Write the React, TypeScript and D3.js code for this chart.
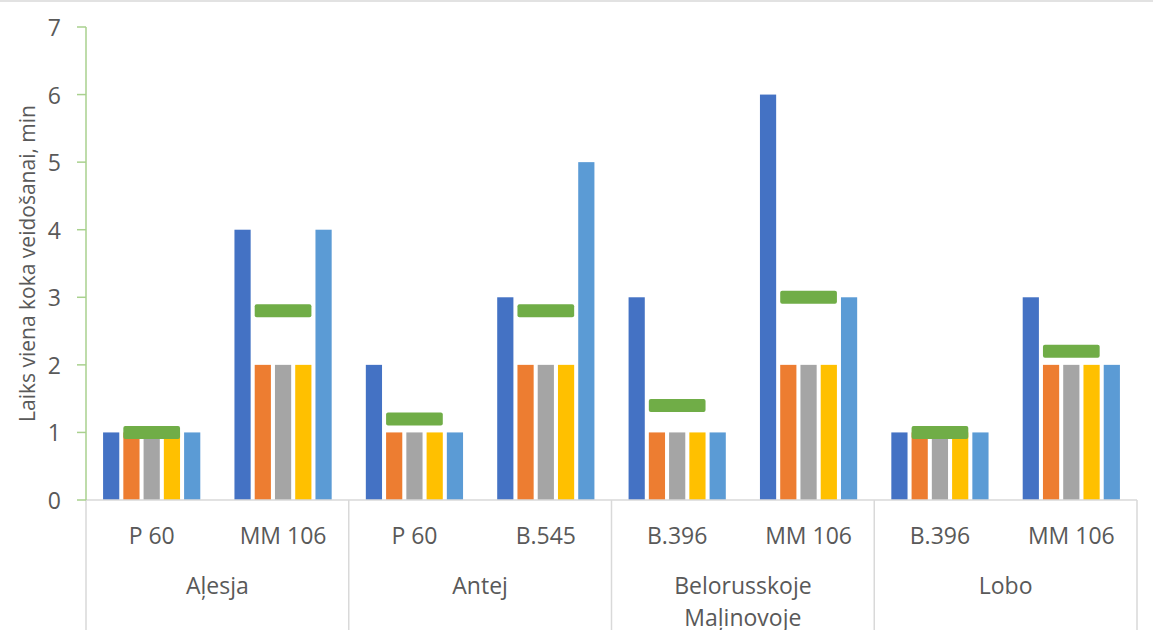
import React from "react";
import * as d3 from "d3";

const cultivars = ["Aļesja", "Antej", "Belorusskoje\nMaļinovoje", "Lobo"];
const rootstocks = ["P 60", "MM 106", "P 60", "B.545", "B.396", "MM 106", "B.396", "MM 106"];
const groupOf = [0, 0, 1, 1, 2, 2, 3, 3];
const series1 = [1, 4, 2, 3, 3, 6, 1, 3];
const series2 = [1, 2, 1, 2, 1, 2, 1, 2];
const series3 = [1, 2, 1, 2, 1, 2, 1, 2];
const series4 = [1, 2, 1, 2, 1, 2, 1, 2];
const series5 = [1, 4, 1, 5, 1, 3, 1, 2];
const averages = [1.0, 2.8, 1.2, 2.8, 1.4, 3.0, 1.0, 2.2];
const yTicks = [0, 1, 2, 3, 4, 5, 6, 7];
const colors = ["#4472C4", "#ED7D31", "#A5A5A5", "#FFC000", "#5B9BD5"];
const avgColor = "#70AD47";

const W = 1153;
const H = 630;
const left = 86;
const right = 1137;
const top = 27;
const bottom = 500;
const font = "'Open Sans', 'Noto Sans', sans-serif";
const textColor = "#595959";

export default function App() {
  const allSeries = [series1, series2, series3, series4, series5];
  const y = d3.scaleLinear().domain([0, 7]).range([bottom, top]);
  const idx = rootstocks.map((_, i) => String(i));
  const x0 = d3.scaleBand<string>().domain(idx).range([left, right]).paddingInner(0.26).paddingOuter(0.13);
  const x1 = d3
    .scaleBand<string>()
    .domain(["0", "1", "2", "3", "4"])
    .range([0, x0.bandwidth()])
    .paddingInner(0.2)
    .paddingOuter(0);
  const step = (right - left) / rootstocks.length;
  const groupStep = (right - left) / cultivars.length;
  const markerH = 13;

  return (
    <svg width={W} height={H} style={{ position: "absolute", left: 0, top: 0, background: "#fff" }}>
      <line x1={0} x2={W} y1={1} y2={1} stroke="#e2e2e2" strokeWidth={2} />
      {/* bars */}
      {rootstocks.map((_, i) => (
        <g key={i} transform={`translate(${x0(String(i))},0)`}>
          {allSeries.map((s, k) => (
            <rect
              key={k}
              x={x1(String(k))}
              y={y(s[i])}
              width={x1.bandwidth()}
              height={bottom - y(s[i])}
              fill={colors[k]}
            />
          ))}
          <rect
            x={x1("1")}
            y={y(averages[i]) - markerH / 2}
            width={(x1("3") as number) + x1.bandwidth() - (x1("1") as number)}
            height={markerH}
            rx={2}
            fill={avgColor}
          />
        </g>
      ))}
      {/* x axis */}
      <line x1={left} x2={right} y1={bottom} y2={bottom} stroke="#D9D9D9" strokeWidth={1.5} />
      {d3.range(cultivars.length + 1).map((g) => (
        <line
          key={g}
          x1={left + g * groupStep}
          x2={left + g * groupStep}
          y1={bottom}
          y2={H}
          stroke="#D9D9D9"
          strokeWidth={1.5}
        />
      ))}
      {rootstocks.map((r, i) => (
        <text
          key={i}
          x={left + (i + 0.5) * step}
          y={535}
          textAnchor="middle"
          dominantBaseline="central"
          fontFamily={font}
          fontSize={23}
          fill={textColor}
        >
          {r}
        </text>
      ))}
      {cultivars.map((c, g) =>
        c.split("\n").map((line, j) => (
          <text
            key={`${g}-${j}`}
            x={left + (g + 0.5) * groupStep}
            y={585 + j * 32}
            textAnchor="middle"
            dominantBaseline="central"
            fontFamily={font}
            fontSize={23}
            fill={textColor}
          >
            {line}
          </text>
        ))
      )}
      {/* y axis */}
      <line x1={left} x2={left} y1={top} y2={bottom} stroke="#A9D18E" strokeWidth={1.5} />
      {yTicks.map((t) => (
        <g key={t}>
          <line x1={77} x2={left} y1={y(t)} y2={y(t)} stroke="#A9D18E" strokeWidth={1.5} />
          <text
            x={61}
            y={y(t)}
            textAnchor="end"
            dominantBaseline="central"
            fontFamily={font}
            fontSize={23}
            fill={textColor}
          >
            {t}
          </text>
        </g>
      ))}
      <text
        transform={`translate(27,${(top + bottom) / 2}) rotate(-90)`}
        textAnchor="middle"
        dominantBaseline="central"
        fontFamily={font}
        fontSize={21}
        fill={textColor}
      >
        Laiks viena koka veidošanai, min
      </text>
    </svg>
  );
}
